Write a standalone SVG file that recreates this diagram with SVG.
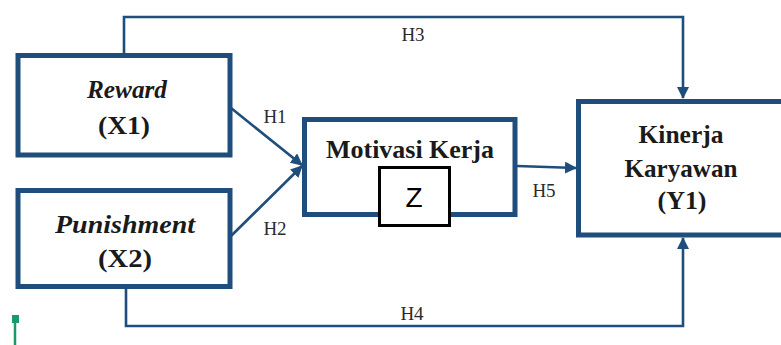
<svg xmlns="http://www.w3.org/2000/svg" width="781" height="345" viewBox="0 0 781 345">
  <style>
    .box { fill: #ffffff; stroke: #1f4d7c; stroke-width: 5; }
    .wire { fill: none; stroke: #1f4d7c; stroke-width: 2.6; }
    .lbl { fill: #1a1a1a; text-anchor: middle; }
    .hyp { fill: #2a2a2a; font-size: 19px; text-anchor: middle; }
    .b { font-weight: bold; font-size: 26px; }
    .bi { font-weight: bold; font-style: italic; font-size: 26px; }
  </style>
  <defs>
    <marker id="arrow" viewBox="0 0 12 12" refX="11" refY="6" markerWidth="12" markerHeight="12" markerUnits="userSpaceOnUse" orient="auto">
      <path d="M0,0 L12,6 L0,12 Z" fill="#1f4d7c"/>
    </marker>
  </defs>

  <rect width="781" height="345" fill="#ffffff"/>

  <g font-family="Liberation Serif, Times New Roman, serif">
    <!-- connectors -->
    <g id="connectors">
      <path class="wire" d="M124,55 V17 H683 V98" marker-end="url(#arrow)"/>
      <path class="wire" d="M126,287 V326 H683 V238" marker-end="url(#arrow)"/>
      <path class="wire" d="M231,108 L302,165" marker-end="url(#arrow)"/>
      <path class="wire" d="M231,236 L302,166" marker-end="url(#arrow)"/>
      <path class="wire" d="M517,166 L576,168" marker-end="url(#arrow)"/>
      <text class="hyp" x="413" y="41">H3</text>
      <text class="hyp" x="412" y="320">H4</text>
      <text class="hyp" x="275" y="123">H1</text>
      <text class="hyp" x="275" y="235">H2</text>
      <text class="hyp" x="544" y="197">H5</text>
    </g>

    <!-- Reward (X1) -->
    <g id="reward">
      <rect class="box" x="18" y="55.5" width="212" height="99.5"/>
      <text class="lbl bi" x="127" y="98" textLength="80" lengthAdjust="spacingAndGlyphs">Reward</text>
      <text class="lbl b" x="124" y="134" textLength="52" lengthAdjust="spacingAndGlyphs">(X1)</text>
    </g>

    <!-- Punishment (X2) -->
    <g id="punishment">
      <rect class="box" x="18" y="190.5" width="212" height="96"/>
      <text class="lbl bi" x="125" y="233" textLength="140" lengthAdjust="spacingAndGlyphs">Punishment</text>
      <text class="lbl b" x="125" y="267" textLength="54" lengthAdjust="spacingAndGlyphs">(X2)</text>
    </g>

    <!-- Motivasi Kerja (Z) -->
    <g id="motivasi">
      <rect class="box" x="304.5" y="119.5" width="210.5" height="95"/>
      <text class="lbl b" x="410" y="158" textLength="168" lengthAdjust="spacingAndGlyphs">Motivasi Kerja</text>
    </g>

    <!-- Kinerja Karyawan (Y1) -->
    <g id="kinerja">
      <rect class="box" x="578.5" y="101.5" width="210" height="133.5"/>
      <text class="lbl b" x="681" y="143" textLength="85" lengthAdjust="spacingAndGlyphs">Kinerja</text>
      <text class="lbl b" x="681" y="177" textLength="113" lengthAdjust="spacingAndGlyphs">Karyawan</text>
      <text class="lbl b" x="682" y="209" textLength="49" lengthAdjust="spacingAndGlyphs">(Y1)</text>
    </g>
  </g>

  <g id="z-tag">
    <rect x="379.5" y="167.5" width="70" height="58" fill="#ffffff" stroke="#000000" stroke-width="3"/>
    <text x="414" y="207" font-family="Liberation Sans, Arial, sans-serif" font-size="28" text-anchor="middle" fill="#000000">Z</text>
  </g>

  <!-- small green marker, lower left -->
  <g id="marker-pin">
    <rect x="12" y="315" width="7" height="8" fill="#1a9a68"/>
    <line x1="15" y1="322" x2="15" y2="345" stroke="#1a9a68" stroke-width="2.5"/>
  </g>
</svg>
